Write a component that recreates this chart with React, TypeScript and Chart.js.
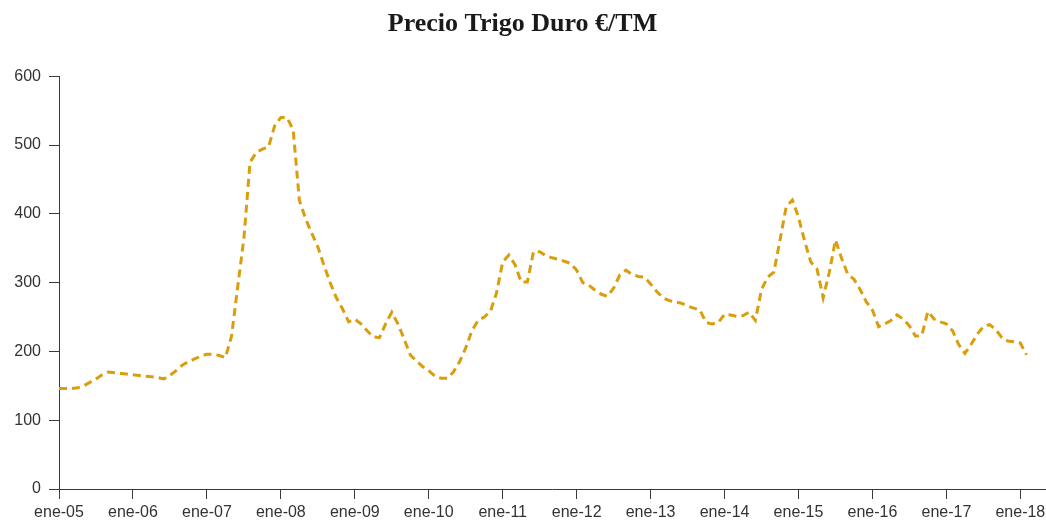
import React, { useEffect, useRef } from "react";
import { Chart, registerables } from "chart.js";

Chart.register(...registerables);

const TITLE = "Precio Trigo Duro €/TM";

// Tick labels shown every 12 months (January of each year)
const yearTickLabels = [
  "ene-05", "ene-06", "ene-07", "ene-08", "ene-09", "ene-10", "ene-11",
  "ene-12", "ene-13", "ene-14", "ene-15", "ene-16", "ene-17", "ene-18",
];

// Monthly price, €/TM, from ene-05 to feb-18
const prices = [
  146, 146, 146, 147, 150, 155, 160, 166, 170, 169, 168, 167,
  166, 165, 164, 163, 162, 160, 165, 172, 180, 185, 189, 193,
  196, 196, 194, 191, 222, 294, 364, 475, 489, 494, 497, 528,
  540, 540, 522, 420, 393, 372, 352, 325, 300, 278, 262, 243,
  247, 240, 230, 221, 220, 240, 257, 240, 218, 195, 186, 178,
  172, 164, 161, 161, 170, 185, 205, 230, 245, 250, 258, 285,
  330, 340, 326, 301, 301, 345, 345, 339, 336, 334, 331, 328,
  318, 300, 296, 289, 283, 280, 292, 311, 318, 312, 309, 308,
  298, 287, 278, 274, 272, 270, 266, 263, 260, 242, 240, 242,
  254, 253, 251, 252, 257, 245, 290, 308, 315, 362, 410, 420,
  395, 360, 330, 320, 278, 315, 362, 335, 312, 305, 290, 272,
  260, 236, 240, 245, 253, 247, 237, 222, 223, 258, 247, 243,
  240, 230, 210, 197, 210, 225, 236, 239, 232, 220, 215, 214,
  212, 195,
];

const MONTHS_PER_TICK = 12;
const X_AXIS_END_MONTH = 160;
const Y_MIN = 0;
const Y_MAX = 600;
const Y_STEP = 100;

export default function App() {
  const ref = useRef<HTMLCanvasElement | null>(null);

  useEffect(() => {
    document.body.style.margin = "0";
    const canvas = ref.current;
    if (!canvas) return;
    const axisColor = "#3a3a3a";
    const tickFont = { family: "'Liberation Sans', Arial, sans-serif", size: 16 };
    const chart = new Chart(canvas, {
      type: "line",
      data: {
        datasets: [
          {
            label: TITLE,
            data: prices.map((v, i) => ({ x: i, y: v })),
            borderColor: "#D99E0B",
            borderWidth: 3,
            borderDash: [8, 5],
            pointRadius: 0,
            tension: 0,
            fill: false,
          },
        ],
      },
      options: {
        animation: false,
        responsive: false,
        maintainAspectRatio: false,
        layout: { padding: { left: 0, right: 1, top: 0, bottom: 0 } },
        plugins: {
          legend: { display: false },
          tooltip: { enabled: false },
          title: {
            display: true,
            text: TITLE,
            color: "#1a1a1a",
            font: { family: "'Liberation Serif', 'Times New Roman', serif", size: 26, weight: "bold" },
            padding: { top: 9, bottom: 36 },
          },
        },
        scales: {
          x: {
            type: "linear",
            min: 0,
            max: X_AXIS_END_MONTH,
            grid: { display: true, drawOnChartArea: false, drawTicks: true, tickLength: 10, color: axisColor },
            border: { display: true, color: axisColor, width: 1 },
            ticks: {
              stepSize: MONTHS_PER_TICK,
              includeBounds: false,
              autoSkip: false,
              maxRotation: 0,
              color: "#333",
              font: tickFont,
              padding: 4,
              callback: (value: any) => {
                const v = Number(value);
                if (v % MONTHS_PER_TICK !== 0) return null;
                return yearTickLabels[v / MONTHS_PER_TICK] ?? null;
              },
            },
            afterFit: (scale: any) => {
              scale.height = 36;
              scale.paddingRight = 0;
              scale.paddingLeft = 0;
            },
          },
          y: {
            min: Y_MIN,
            max: Y_MAX,
            grid: { display: true, drawOnChartArea: false, drawTicks: true, tickLength: 10, color: axisColor },
            border: { display: true, color: axisColor, width: 1 },
            ticks: {
              stepSize: Y_STEP,
              color: "#333",
              font: tickFont,
              padding: 8,
            },
            afterFit: (scale: any) => {
              scale.width = 59;
            },
          },
        },
      },
    });
    return () => chart.destroy();
  }, []);

  return <canvas ref={ref} width={1046} height={525} style={{ display: "block" }} />;
}
